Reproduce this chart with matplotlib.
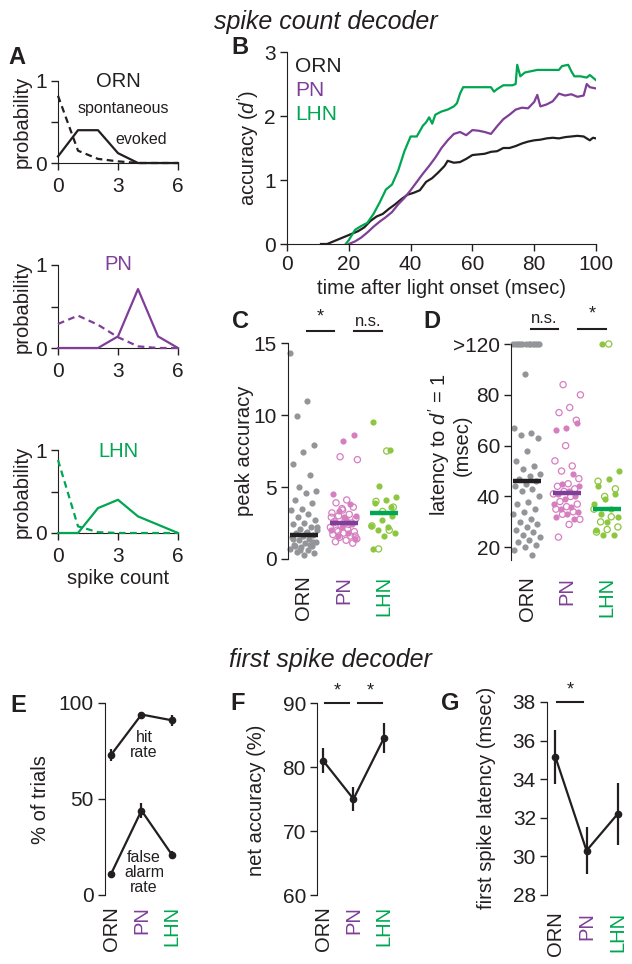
import numpy as np
import matplotlib
matplotlib.use('Agg')
import matplotlib.pyplot as plt

plt.rcParams['font.family'] = ['Liberation Sans', 'DejaVu Sans']
plt.rcParams['mathtext.fontset'] = 'custom'
plt.rcParams['mathtext.it'] = 'Liberation Sans:italic'
plt.rcParams['mathtext.rm'] = 'Liberation Sans'

BLACK = '#231f20'
PURPLE = '#7f3f98'
GREEN = '#00a651'
GRAY = '#939598'
PINK = '#d67fc0'
LGREEN = '#8dc63f'

cells = ['ORN', 'PN', 'LHN']
cell_colors = [BLACK, PURPLE, GREEN]

# A: spike count distributions
counts = [0, 1, 2, 3, 4, 5, 6]
orn_evoked = [0.08, 0.40, 0.40, 0.12, 0, 0, 0]
orn_spont = [0.82, 0.15, 0.05, 0.02, 0, 0, 0]
pn_evoked = [0, 0, 0, 0.14, 0.71, 0.14, 0]
pn_spont = [0.29, 0.39, 0.28, 0.13, 0.02, 0, 0]
lhn_evoked = [0, 0, 0.30, 0.40, 0.20, 0.10, 0]
lhn_spont = [0.88, 0.08, 0.01, 0, 0, 0, 0]

# B: accuracy over time
t_orn = [11, 13, 15, 17, 19, 21, 23, 25, 27, 29, 31, 33, 35, 37, 39, 41, 43, 45, 47, 49,
         51, 52, 54, 56, 58, 60, 62, 64, 66, 68, 70, 72, 74, 76, 78, 80, 82, 84, 86, 88,
         90, 92, 94, 96, 98, 99, 100]
d_orn = [0, 0, 0.04, 0.08, 0.12, 0.16, 0.2, 0.26, 0.36, 0.43, 0.47, 0.55, 0.62, 0.7, 0.77, 0.8, 0.84, 0.97, 1.03, 1.12,
         1.22, 1.3, 1.27, 1.28, 1.33, 1.39, 1.4, 1.41, 1.44, 1.45, 1.5, 1.5, 1.53, 1.57, 1.6, 1.62, 1.63, 1.65, 1.66, 1.65,
         1.67, 1.68, 1.69, 1.68, 1.62, 1.66, 1.65]
t_pn = [20, 22, 24, 26, 28, 30, 32, 34, 36, 38, 40, 42, 44, 46, 48, 50, 52, 54, 56, 58,
        60, 62, 64, 66, 68, 70, 72, 74, 76, 78, 80, 81, 82, 84, 86, 88, 90, 92, 94, 96,
        97, 98, 100]
d_pn = [0, 0.04, 0.1, 0.18, 0.27, 0.35, 0.42, 0.5, 0.62, 0.72, 0.84, 0.97, 1.1, 1.22, 1.35, 1.5, 1.62, 1.72, 1.75, 1.7,
        1.78, 1.77, 1.75, 1.72, 1.84, 1.95, 2.02, 2.1, 2.13, 2.12, 2.22, 2.33, 2.15, 2.18, 2.23, 2.35, 2.32, 2.34, 2.3, 2.32,
        2.5, 2.45, 2.43]
t_lhn = [19, 20, 22, 24, 26, 28, 30, 32, 34, 36, 38, 40, 42, 44, 45, 46, 47, 48, 50, 52,
         54, 55, 56, 57, 60, 63, 66, 67, 68, 70, 73, 74, 74.5, 75.5, 77, 79, 81, 84, 88, 89,
         91, 92, 93, 95, 97, 98, 99, 100]
d_lhn = [0, 0.06, 0.22, 0.28, 0.33, 0.47, 0.65, 0.85, 0.93, 1.15, 1.45, 1.68, 1.68, 1.85, 1.9, 1.98, 1.88, 2.02, 2.07, 2.1,
         2.15, 2.2, 2.35, 2.45, 2.45, 2.45, 2.45, 2.38, 2.42, 2.48, 2.48, 2.5, 2.8, 2.62, 2.68, 2.7, 2.72, 2.72, 2.72, 2.78,
         2.8, 2.7, 2.62, 2.62, 2.6, 2.64, 2.6, 2.56]

# C: peak accuracy per cell
c_orn = [14.3, 11.0, 9.9, 7.9, 7.4, 6.6, 5.8, 5.0, 4.7, 4.6, 4.1, 3.9, 3.5, 3.4, 3.1, 2.9,
         2.7, 2.5, 2.4, 2.2, 2.1, 2.0, 1.9, 1.8, 1.7, 1.6, 1.5, 1.4, 1.3, 1.2, 1.1, 1.0,
         0.9, 0.8, 0.7, 0.6, 0.5, 0.4, 0.3, 1.4, 1.0, 0.6, 2.2, 1.8, 0.9, 1.2]
c_pn_filled = [8.6, 8.2, 4.5, 3.8, 3.3, 3.0, 2.8, 2.6, 2.4, 2.2, 2.0, 1.8, 1.6, 1.4, 2.9, 2.5]
c_pn_open = [7.1, 6.9, 4.1, 3.9, 3.6, 3.4, 3.2, 3.1, 3.0, 2.8, 2.7, 2.6, 2.5, 2.3, 2.2, 2.1,
             2.0, 1.9, 1.8, 1.7, 1.6, 1.5, 1.4, 1.3, 1.2, 1.1, 3.5, 2.9, 2.4, 1.9, 1.6]
c_lhn_filled = [9.5, 7.6, 5.1, 4.3, 4.1, 3.9, 3.0, 2.7, 2.3, 2.2, 2.0, 1.8, 1.6, 0.7, 3.6]
c_lhn_open = [7.5, 4.0, 3.6, 3.3, 2.3, 2.0, 0.7]
c_medians = [1.7, 2.5, 3.2]

# D: latency to d' = 1 (100 on the axis stands for >120)
d_lat_orn = [100, 100, 100, 100, 100, 100, 100, 100, 100, 100, 100, 100,
             88, 67, 65, 64, 63, 58, 54, 52, 51, 49, 48, 47, 46, 45, 44, 43, 42, 40, 38,
             37, 35, 34, 33, 31, 30, 29, 28, 27, 26, 25, 24, 23, 22, 21, 20, 19, 17]
d_lat_pn_open = [84, 80, 75, 73, 70, 60, 54, 52, 50, 47, 45, 44, 43, 42, 41, 40, 38, 37,
                 36, 35, 34, 33, 31, 29, 24]
d_lat_pn_filled = [69, 67, 66, 49, 45, 44, 42, 41, 40, 39, 37, 36, 35, 34, 33, 32, 31]
d_lat_lhn_filled = [100, 50, 47, 44, 41, 39, 37, 35, 33, 32, 30, 27, 25, 25]
d_lat_lhn_open = [100, 46, 43, 40, 35, 32, 30, 28, 27, 26]
d_medians = [46, 41.4, 35]

# E-G: first spike decoder
hit_rate = [73, 94, 91]
hit_err = [3, 1.2, 3]
fa_rate = [11, 44, 21]
fa_err = [1, 4, 2]
net_acc = [81, 75, 84.5]
net_err = [2, 1.8, 2.3]
fs_lat = [35.15, 30.3, 32.2]
fs_err = [1.4, 1.2, 1.6]

W, H = 632, 964
FS = 14.5


def rect(x0, y0, x1, y1):
    return [x0 / W, 1 - y1 / H, (x1 - x0) / W, (y1 - y0) / H]


def ftext(fig, x, y, s, **kw):
    return fig.text(x / W, 1 - y / H, s, **kw)


def base_style(ax, bottom=True):
    ax.spines['top'].set_visible(False)
    ax.spines['right'].set_visible(False)
    ax.spines['left'].set_color(BLACK)
    ax.spines['bottom'].set_color(BLACK)
    ax.tick_params(direction='out', length=5, width=1, labelsize=15, colors=BLACK, pad=3)
    ax.patch.set_alpha(0)
    if not bottom:
        ax.spines['bottom'].set_visible(False)


def category_axis(ax, pad):
    ax.set_xticks([0, 1, 2])
    ax.set_xticklabels(cells, rotation=90, fontsize=FS)
    ax.tick_params(axis='x', length=0, pad=pad)
    for lab, c in zip(ax.get_xticklabels(), cell_colors):
        lab.set_color(c)


def spread(n, start, width):
    k = np.arange(start, start + n)
    return ((k * 0.618034) % 1 - 0.5) * width


def strip(ax, xc, vals, color, filled, start=0, width=0.7):
    x = xc + spread(len(vals), start, width)
    if filled:
        ax.scatter(x, vals, s=20, color=color, lw=0, clip_on=False, zorder=2)
    else:
        ax.scatter(x, vals, s=20, facecolors='none', edgecolors=color, lw=0.9,
                   clip_on=False, zorder=2)


def sig(ax, x0, x1, y, label, dy):
    ax.plot([x0, x1], [y, y], color=BLACK, lw=1.5, clip_on=False)
    ax.text((x0 + x1) / 2, y + dy, label, ha='center', va='bottom',
            fontsize=13 if label == '*' else 12, color=BLACK, clip_on=False)


fig = plt.figure(figsize=(6.32, 9.64), dpi=100)

# titles
ftext(fig, 326, 22, 'spike count decoder', ha='center', va='center',
      fontsize=18, style='italic', color=BLACK)
ftext(fig, 330, 660, 'first spike decoder', ha='center', va='center',
      fontsize=18, style='italic', color=BLACK)

# panel letters
for letter, (lx, ly) in zip('ABCDEFG', [(17, 57), (240, 47), (240, 322), (432, 322),
                                          (18, 706), (238, 703), (450, 703)]):
    ftext(fig, lx, ly, letter, ha='center', va='center', fontsize=17,
          fontweight='bold', color=BLACK)

# ---- A ----
a_sets = [('ORN', BLACK, orn_evoked, orn_spont, (81, 163), 0.93),
          ('PN', PURPLE, pn_evoked, pn_spont, (265, 348), 0.94),
          ('LHN', GREEN, lhn_evoked, lhn_spont, (450, 533), 0.92)]
for name, col, ev, sp, (y0, y1), ty in a_sets:
    ax = fig.add_axes(rect(58, y0, 178, y1))
    base_style(ax)
    ax.plot(counts, ev, color=col, lw=1.6, clip_on=False, zorder=3)
    ax.plot(counts, sp, color=col, lw=1.6, ls=(0, (3, 2)), clip_on=False, zorder=3)
    ax.set_xlim(0, 6)
    ax.set_ylim(0, 1)
    ax.set_xticks([0, 3, 6])
    ax.set_yticks([0, 0.5, 1])
    ax.set_yticklabels(['0', '', '1'])
    ax.tick_params(axis='x', pad=5)
    ax.text(3, ty, name, ha='center', va='baseline', fontsize=FS, color=col)
    ftext(fig, 22, (y0 + y1) / 2, 'probability', rotation=90, ha='center',
          va='center', fontsize=FS, color=BLACK)
    if name == 'ORN':
        ax.text(3.25, 0.67, 'spontaneous', ha='center', va='center', fontsize=11.5, color=BLACK)
        ax.text(4.15, 0.29, 'evoked', ha='center', va='center', fontsize=11.5, color=BLACK)
ftext(fig, 118, 578, 'spike count', ha='center', va='center', fontsize=FS, color=BLACK)

# ---- B ----
ax = fig.add_axes(rect(287, 52, 596, 244))
base_style(ax)
ax.plot(t_orn, d_orn, color=BLACK, lw=1.6, zorder=3)
ax.plot(t_pn, d_pn, color=PURPLE, lw=1.6, zorder=3)
ax.plot(t_lhn, d_lhn, color=GREEN, lw=1.6, zorder=3)
ax.set_xlim(0, 100)
ax.set_ylim(0, 3)
ax.set_xticks([0, 20, 40, 60, 80, 100])
ax.set_yticks([0, 1, 2, 3])
for lab, col, ly in zip(cells, cell_colors, [66, 90, 114]):
    ftext(fig, 295, ly, lab, ha='left', va='center', fontsize=15, color=col)
ftext(fig, 248, 148, "accuracy ($d'$)", rotation=90, ha='center', va='center',
      fontsize=FS, color=BLACK)
ftext(fig, 441, 288, 'time after light onset (msec)', ha='center', va='center',
      fontsize=FS, color=BLACK)

# ---- C ----
ax = fig.add_axes(rect(288, 343, 402, 559))
base_style(ax, bottom=False)
strip(ax, 0, c_orn, GRAY, True, 0)
strip(ax, 1, c_pn_filled, PINK, True, 3)
strip(ax, 1, c_pn_open, PINK, False, 20)
strip(ax, 2, c_lhn_filled, LGREEN, True, 5)
strip(ax, 2, c_lhn_open, LGREEN, False, 22)
for i, (m, col) in enumerate(zip(c_medians, cell_colors)):
    ax.plot([i - 0.35, i + 0.35], [m, m], color=col, lw=3.2, solid_capstyle='butt', zorder=4)
ax.set_xlim(-0.4, 2.45)
ax.set_ylim(0, 15)
ax.set_yticks([0, 5, 10, 15])
category_axis(ax, 12)
sig(ax, 0.075, 0.75, 15.8, '*', 0.4)
sig(ax, 1.25, 1.95, 15.8, 'n.s.', 0.2)
ftext(fig, 245, 451, 'peak accuracy', rotation=90, ha='center', va='center',
      fontsize=FS, color=BLACK)

# ---- D ----
ax = fig.add_axes(rect(511, 344, 625, 560))
base_style(ax, bottom=False)
strip(ax, 0, d_lat_orn, GRAY, True, 0)
strip(ax, 1, d_lat_pn_filled, PINK, True, 3)
strip(ax, 1, d_lat_pn_open, PINK, False, 20)
strip(ax, 2, d_lat_lhn_filled, LGREEN, True, 7)
strip(ax, 2, d_lat_lhn_open, LGREEN, False, 9)
for i, (m, col) in enumerate(zip(d_medians, cell_colors)):
    ax.plot([i - 0.35, i + 0.35], [m, m], color=col, lw=3.2, solid_capstyle='butt', zorder=4)
ax.set_xlim(-0.4, 2.45)
ax.set_ylim(15, 100)
ax.set_yticks([20, 40, 60, 80, 100])
ax.set_yticklabels(['20', '40', '60', '80', '>120'])
category_axis(ax, 12)
sig(ax, 0.1, 0.775, 105.9, 'n.s.', 1.2)
sig(ax, 1.275, 1.975, 105.9, '*', 2.4)
ftext(fig, 449, 445, "latency to $d'$ = 1\n(msec)", rotation=90, ha='center',
      va='center', fontsize=FS, color=BLACK, linespacing=1.0)

# ---- E ----
x3 = [0, 1, 2]
ax = fig.add_axes(rect(105, 703, 181, 895))
base_style(ax, bottom=False)
ax.errorbar(x3, hit_rate, yerr=hit_err, fmt='-o', color=BLACK, ms=4.5, lw=1.6,
            elinewidth=1.6, capsize=0, clip_on=False)
ax.errorbar(x3, fa_rate, yerr=fa_err, fmt='-o', color=BLACK, ms=4.5, lw=1.6,
            elinewidth=1.6, capsize=0, clip_on=False)
ax.set_xlim(-0.2, 2.3)
ax.set_ylim(0, 100)
ax.set_yticks([0, 50, 100])
category_axis(ax, 8)
ax.text(1.08, 78, 'hit\nrate', ha='center', va='center', fontsize=11.5,
        linespacing=1.0, color=BLACK)
ax.text(1.08, 11.5, 'false\nalarm\nrate', ha='center', va='center', fontsize=11.5,
        linespacing=1.0, color=BLACK)
ftext(fig, 40, 800, '% of trials', rotation=90, ha='center', va='center',
      fontsize=FS, color=BLACK)

# ---- F ----
ax = fig.add_axes(rect(317, 703, 393, 895))
base_style(ax, bottom=False)
ax.errorbar(x3, net_acc, yerr=net_err, fmt='-o', color=BLACK, ms=4.5, lw=1.6,
            elinewidth=1.6, capsize=0, clip_on=False)
ax.set_xlim(-0.2, 2.3)
ax.set_ylim(60, 90)
ax.set_yticks([60, 70, 80, 90])
category_axis(ax, 8)
sig(ax, 0.05, 0.85, 90, '*', 0.6)
sig(ax, 1.15, 1.95, 90, '*', 0.6)
ftext(fig, 256, 800, 'net accuracy (%)', rotation=90, ha='center', va='center',
      fontsize=FS, color=BLACK)

# ---- G ----
ax = fig.add_axes(rect(547, 702, 627, 895))
base_style(ax, bottom=False)
ax.errorbar(x3, fs_lat, yerr=fs_err, fmt='-o', color=BLACK, ms=4.5, lw=1.6,
            elinewidth=1.6, capsize=0, clip_on=False)
ax.set_xlim(-0.27, 2.3)
ax.set_ylim(28, 38)
ax.set_yticks([28, 30, 32, 34, 36, 38])
category_axis(ax, 12)
sig(ax, 0.05, 0.9, 38, '*', 0.2)
ftext(fig, 487, 798, 'first spike latency (msec)', rotation=90, ha='center',
      va='center', fontsize=FS, color=BLACK)

fig.savefig('out.png', dpi=100)
